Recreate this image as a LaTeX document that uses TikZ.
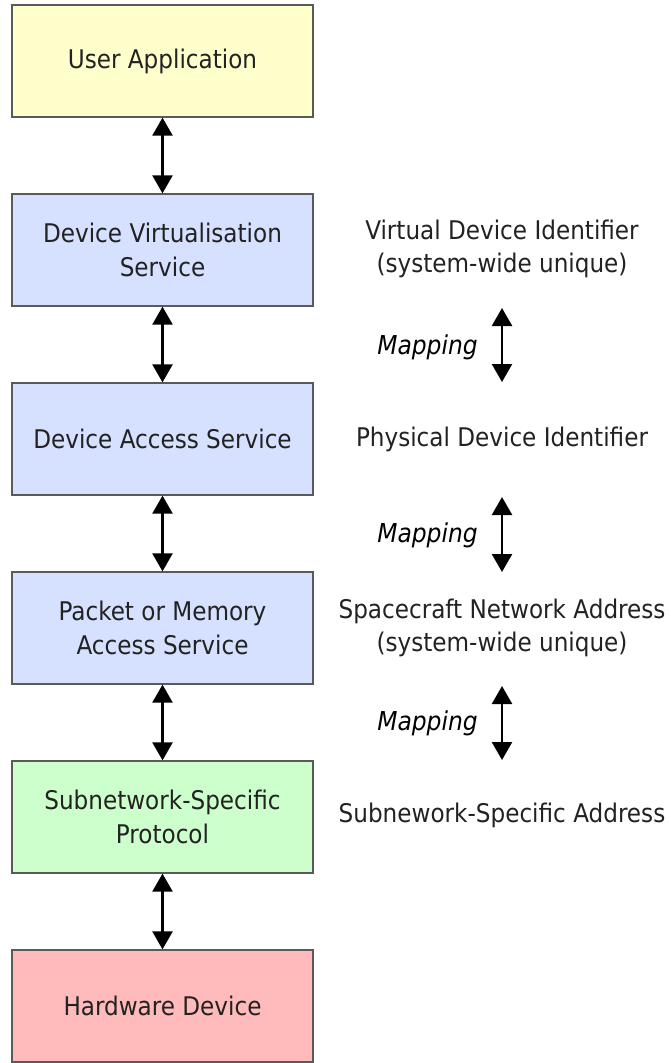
\documentclass[tikz,border=0pt]{standalone}
\usepackage{fontspec}
\setmainfont{DejaVu Sans Condensed}
\usetikzlibrary{arrows.meta}
\definecolor{boxline}{RGB}{90,90,90}
\definecolor{txt}{RGB}{34,34,34}
\definecolor{cyellow}{RGB}{255,255,204}
\definecolor{cblue}{RGB}{214,224,255}
\definecolor{cgreen}{RGB}{204,255,204}
\definecolor{cred}{RGB}{255,187,187}
\begin{document}
\begin{tikzpicture}[x=1pt,y=-1pt,
  box/.style={draw=boxline, line width=1.3pt, minimum width=301pt, minimum height=112pt,
    inner sep=0pt, align=center, text=txt, font=\fontsize{25.7}{34}\selectfont},
  lbl/.style={align=center, text=txt, inner sep=0pt, font=\fontsize{25.7}{33}\selectfont},
  maplbl/.style={anchor=east, text=black, inner sep=0pt, font=\fontsize{26}{30}\selectfont\itshape},
  biarrow/.style={line width=2.5pt, {Triangle[width=20pt,length=18pt]}-{Triangle[width=20pt,length=18pt]}}]
\useasboundingbox (0,0) rectangle (670,1063);
\node[box, fill=cyellow] (ua) at (162.5,61) {User Application};
\node[box, fill=cblue] (dvs) at (162.5,250) {Device Virtualisation\\Service};
\node[box, fill=cblue] (das) at (162.5,439) {Device Access Service};
\node[box, fill=cblue] (pma) at (162.5,628) {Packet or Memory\\Access Service};
\node[box, fill=cgreen] (ssp) at (162.5,817) {Subnetwork-Specific\\Protocol};
\node[box, fill=cred] (hw) at (162.5,1006) {Hardware Device};
\draw[biarrow] (ua.south) -- (dvs.north);
\draw[biarrow] (dvs.south) -- (das.north);
\draw[biarrow] (das.south) -- (pma.north);
\draw[biarrow] (pma.south) -- (ssp.north);
\draw[biarrow] (ssp.south) -- (hw.north);
\node[lbl] (vdi) at (502,249) {Virtual Device Identifier\\(system-wide unique)};
\node[lbl] (pdi) at (502,439) {Physical Device Identifier};
\node[lbl] (sna) at (502,628) {Spacecraft Network Address\\(system-wide unique)};
\node[lbl] (ssa) at (502,815) {Subnework-Specific Address};
\coordinate (m1t) at (502,308); \coordinate (m1b) at (502,382);
\coordinate (m2t) at (502,497); \coordinate (m2b) at (502,572);
\coordinate (m3t) at (502,686); \coordinate (m3b) at (502,760);
\draw[biarrow] (m1t) -- (m1b);
\draw[biarrow] (m2t) -- (m2b);
\draw[biarrow] (m3t) -- (m3b);
\node[maplbl] (map1) at (478,347) {Mapping};
\node[maplbl] (map2) at (478,535) {Mapping};
\node[maplbl] (map3) at (478,723) {Mapping};
\end{tikzpicture}
\end{document}
